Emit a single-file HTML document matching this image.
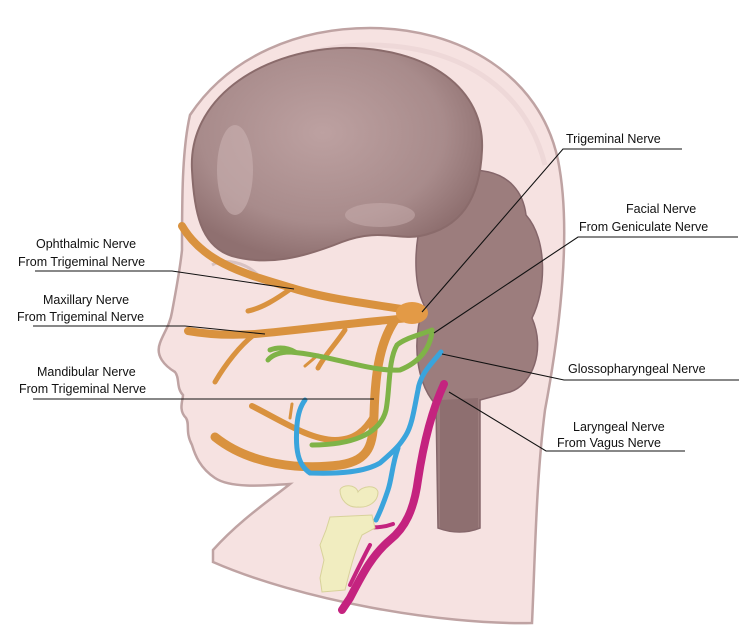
<!DOCTYPE html>
<html><head><meta charset="utf-8"><style>
html,body{margin:0;padding:0;background:#fff;}
svg{display:block;}
text{font-family:"Liberation Sans",Arial,sans-serif;font-size:12.5px;fill:#111;}
</style></head><body>
<svg width="754" height="634" viewBox="0 0 754 634" xmlns="http://www.w3.org/2000/svg">
<defs>
<radialGradient id="br" cx="45%" cy="40%" r="60%"><stop offset="0" stop-color="#bda1a1"/><stop offset="0.7" stop-color="#a88b8b"/><stop offset="1" stop-color="#8f7070"/></radialGradient>
</defs>
<path d="M190,115 C230,55 300,28 370,28 C460,28 540,75 558,160 C572,230 560,330 545,410 C536,480 535,560 532,623 C440,625 300,600 213,562 L213,550 C240,520 270,500 290,484 C260,486 230,488 215,478 C200,468 195,455 192,445 C185,432 190,424 186,418 C178,410 183,400 183,395 C176,388 180,378 175,372 C165,366 155,356 160,343 C163,334 170,325 172,312 C176,290 180,270 182,250 C182,200 182,150 190,115 Z" fill="#f6e2e1" stroke="#bfa3a3" stroke-width="2.5"/>
<path d="M205,120 C245,70 305,45 370,45 C455,45 525,85 545,165" fill="none" stroke="#eed8d8" stroke-width="5"/>
<path d="M425,185 C465,160 520,165 526,215 C548,240 546,290 532,318 C546,350 532,385 510,392 L480,400 L480,528 Q460,536 438,528 L436,405 C418,385 410,345 424,305 C414,285 415,255 418,236 Z" fill="#9c7d7d" stroke="#85666a" stroke-width="1.5"/>
<path d="M440,400 L440,528 Q458,535 478,528 L478,398" fill="#8e6f70"/>
<path d="M192,170 C188,100 258,52 340,48 C430,46 485,90 482,150 C480,200 460,228 420,236 C398,240 378,228 342,242 C302,258 268,266 232,256 C200,246 194,210 192,170 Z" fill="url(#br)" stroke="#8a6b6b" stroke-width="2"/>
<ellipse cx="235" cy="170" rx="18" ry="45" fill="#c9b0b0" opacity="0.6"/>
<ellipse cx="380" cy="215" rx="35" ry="12" fill="#c9b0b0" opacity="0.5"/>
<path d="M212,265 C225,258 245,262 258,275" fill="none" stroke="#d8c2c2" stroke-width="3"/>
<g fill="none" stroke="#d9923f" stroke-linecap="round" stroke-linejoin="round">
<path d="M420,312 C380,305 330,300 292,288 C250,275 205,265 182,226" stroke-width="8"/>
<path d="M292,288 C275,300 262,308 248,311" stroke-width="5"/>
<path d="M410,318 C360,322 300,330 255,334 C225,336 205,334 188,331" stroke-width="8"/>
<path d="M255,334 C240,345 225,365 215,382" stroke-width="5"/>
<path d="M345,330 C335,345 325,355 318,368" stroke-width="5"/>
<path d="M318,355 L305,366" stroke-width="3"/>
<path d="M395,320 C378,345 375,380 374,415 C373,445 370,460 340,465 C300,470 250,465 215,437" stroke-width="9"/>
<path d="M374,415 C365,430 355,440 335,440 C310,440 280,420 252,406" stroke-width="6"/>
<path d="M290,418 L292,404" stroke-width="3"/>
</g>
<ellipse cx="412" cy="313" rx="16" ry="11" fill="#e39a46"/>
<g fill="none" stroke="#7fb347" stroke-linecap="round" stroke-width="5">
<path d="M432,330 C420,335 405,338 397,345 C388,360 390,390 386,410 C380,435 350,445 312,445"/>
<path d="M432,332 C430,348 420,362 400,370 C370,372 330,355 290,352 C280,352 272,355 268,360"/>
<path d="M295,352 C285,346 275,348 270,350"/>
</g>
<g fill="none" stroke="#3aa4dc" stroke-linecap="round" stroke-width="5">
<path d="M441,352 C430,365 420,375 418,390 C414,410 412,425 406,435 C400,445 395,450 380,463 C365,472 340,474 310,473 C298,465 295,450 297,425 C298,412 302,404 305,400"/>
<path d="M398,448 C392,465 392,478 388,490 C384,502 380,512 376,520"/>
</g>
<g fill="none" stroke="#c4237f" stroke-linecap="round" stroke-linejoin="round">
<path d="M444,384 C432,410 424,440 418,480 C414,510 405,528 390,540 C372,555 362,575 350,598 L342,610" stroke-width="8"/>
<path d="M393,524 C385,527 375,528 365,527" stroke-width="4"/>
<path d="M370,545 C362,560 355,575 350,585" stroke-width="4"/>
</g>
<path d="M340,490 C342,484 356,484 358,492 C362,486 376,484 378,492 C378,502 368,508 358,507 C348,508 340,500 340,490 Z" fill="#f1edc0" stroke="#d8d29a"/>
<path d="M330,517 L372,515 L375,528 L362,535 C355,550 350,570 345,590 L322,592 L320,578 L324,560 L320,545 L326,530 Z" fill="#f1edc0" stroke="#d8d29a"/>
<g stroke="#111" stroke-width="1.1" fill="none">
<path d="M682,149 L563,149 L422,312"/>
<path d="M738,237 L578,237 L434,333"/>
<path d="M739,380 L564,380 L442,354"/>
<path d="M685,451 L546,451 L449,392"/>
<path d="M35,271 L172,271 L294,289"/>
<path d="M33,326 L185,326 L265,334"/>
<path d="M33,399 L374,399"/>
</g>
<text x="566" y="143">Trigeminal Nerve</text>
<text x="626" y="213">Facial Nerve</text>
<text x="579" y="231">From Geniculate Nerve</text>
<text x="568" y="373">Glossopharyngeal Nerve</text>
<text x="573" y="431">Laryngeal Nerve</text>
<text x="557" y="447">From Vagus Nerve</text>
<text x="36" y="248">Ophthalmic Nerve</text>
<text x="18" y="266">From Trigeminal Nerve</text>
<text x="43" y="304">Maxillary Nerve</text>
<text x="17" y="321">From Trigeminal Nerve</text>
<text x="37" y="376">Mandibular Nerve</text>
<text x="19" y="393">From Trigeminal Nerve</text>
</svg>
</body></html>
